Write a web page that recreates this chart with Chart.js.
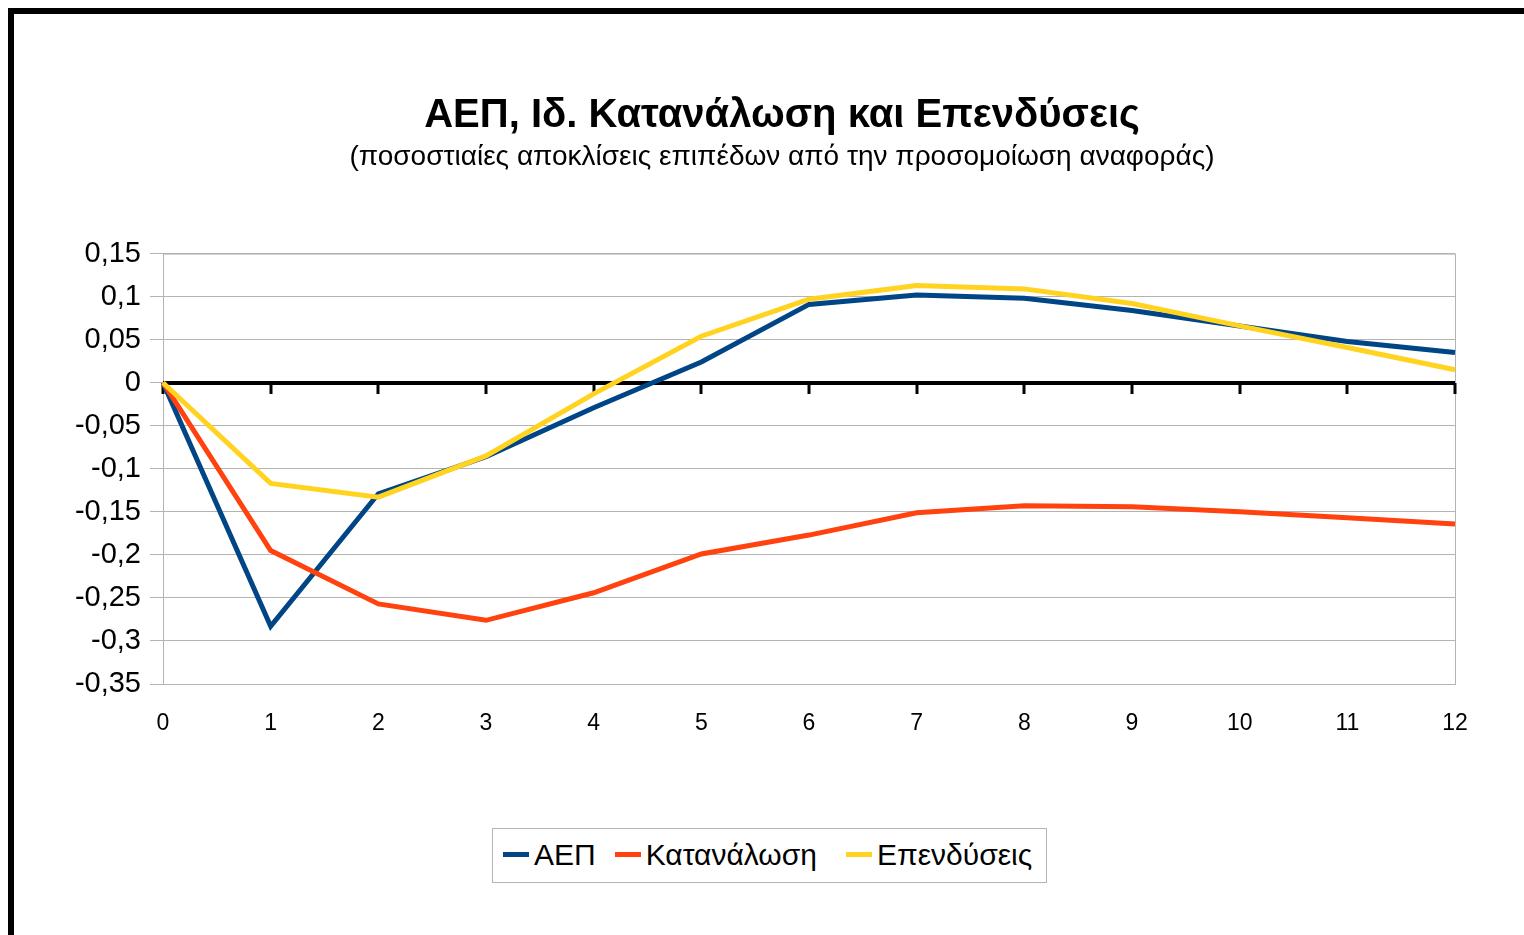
<!DOCTYPE html>
<html>
<head>
<meta charset="utf-8">
<title>ΑΕΠ, Ιδ. Κατανάλωση και Επενδύσεις</title>
<script src="https://cdn.jsdelivr.net/npm/chart.js@4/dist/chart.umd.min.js"></script>
<style>
  html, body { margin: 0; padding: 0; background: #fff; overflow: hidden; }
  body { width: 1524px; height: 935px; position: relative; font-family: "Liberation Sans", Arial, sans-serif; }
  #frame { position: absolute; left: 8px; top: 8px; width: 2000px; height: 2000px;
           border-left: 6px solid #000; border-top: 6px solid #000; box-sizing: border-box; }
  #chart { position: absolute; left: 0; top: 0; }
  #legend { position: absolute; left: 492px; top: 828px; height: 55px; box-sizing: border-box;
            border: 1px solid #b3b3b3; background: #fff; display: flex; align-items: center;
            padding: 0 14px 2px 10px; font-size: 30px; color: #000; }
  #legend .item { display: flex; align-items: center; white-space: nowrap; }
  #legend .item:nth-child(1) { margin-right: 19px; }
  #legend .item:nth-child(2) { margin-right: 29px; }
  #legend .mark { display: inline-block; width: 26px; height: 5px; margin-right: 5px; }
</style>
</head>
<body>
<div id="frame"></div>
<canvas id="chart" width="1564" height="935"></canvas>
<div id="legend"></div>
<script>
// data
const periods = ['0', '1', '2', '3', '4', '5', '6', '7', '8', '9', '10', '11', '12'];
const gdp = [0, -0.283, -0.129, -0.086, -0.029, 0.024, 0.091, 0.102, 0.098, 0.084, 0.066, 0.048, 0.035];
const consumption = [0, -0.195, -0.257, -0.276, -0.244, -0.199, -0.177, -0.151, -0.143, -0.144, -0.150, -0.157, -0.164];
const investment = [0, -0.117, -0.133, -0.085, -0.013, 0.054, 0.097, 0.113, 0.109, 0.092, 0.066, 0.041, 0.015];
const yTicks = [-0.35, -0.3, -0.25, -0.2, -0.15, -0.1, -0.05, 0, 0.05, 0.1, 0.15];

const seriesNames = ['ΑΕΠ', 'Κατανάλωση', 'Επενδύσεις'];
const seriesColors = ['#004586', '#ff420e', '#ffd320'];

const fmt = v => {
  const r = Math.round(v * 100) / 100;
  return String(r).replace('.', ',');
};

// plot frame + black zero line with tick marks
const framePlugin = {
  id: 'frame',
  beforeDatasetsDraw(chart) {
    const { ctx, chartArea: a, scales: { x, y } } = chart;
    ctx.save();
    ctx.strokeStyle = '#b3b3b3';
    ctx.lineWidth = 1;
    ctx.strokeRect(a.left + 0.5, a.top + 0.5, a.right - a.left, a.bottom - a.top);

    const y0 = Math.round(y.getPixelForValue(0));
    ctx.strokeStyle = '#000';
    ctx.lineWidth = 4;
    ctx.beginPath();
    ctx.moveTo(a.left, y0);
    ctx.lineTo(a.right, y0);
    ctx.stroke();
    ctx.lineWidth = 3;
    periods.forEach((p, i) => {
      const px = Math.round(x.getPixelForValue(i));
      ctx.beginPath();
      ctx.moveTo(px, y0);
      ctx.lineTo(px, y0 + 11);
      ctx.stroke();
    });
    ctx.restore();
  }
};

const htmlLegend = {
  id: 'htmlLegend',
  afterUpdate(chart) {
    const box = document.getElementById('legend');
    box.innerHTML = '';
    const items = chart.options.plugins.legend.labels.generateLabels(chart);
    items.sort((a, b) => a.datasetIndex - b.datasetIndex).forEach(it => {
      const el = document.createElement('span');
      el.className = 'item';
      const m = document.createElement('span');
      m.className = 'mark';
      m.style.background = it.strokeStyle;
      el.appendChild(m);
      el.appendChild(document.createTextNode(it.text));
      box.appendChild(el);
    });
  }
};

const ds = (i, data, order) => ({
  label: seriesNames[i],
  data: data,
  borderColor: seriesColors[i],
  backgroundColor: seriesColors[i],
  borderWidth: 5,
  pointRadius: 0,
  tension: 0,
  order: order
});

new Chart(document.getElementById('chart'), {
  type: 'line',
  data: {
    labels: periods,
    datasets: [ds(0, gdp, 3), ds(1, consumption, 2), ds(2, investment, 1)]
  },
  options: {
    responsive: false,
    animation: false,
    layout: { padding: 0 },
    plugins: {
      legend: { display: false },
      tooltip: { enabled: false },
      title: {
        display: true,
        text: 'ΑΕΠ, Ιδ. Κατανάλωση και Επενδύσεις',
        color: '#000',
        font: { family: 'Liberation Sans', size: 40, weight: 'bold', lineHeight: 1.2 },
        padding: { top: 92, bottom: 0 }
      },
      subtitle: {
        display: true,
        text: '(ποσοστιαίες αποκλίσεις επιπέδων από την προσομοίωση αναφοράς)',
        color: '#000',
        font: { family: 'Liberation Sans', size: 28, lineHeight: 1.2 },
        padding: { top: 0, bottom: 80 }
      }
    },
    scales: {
      x: {
        offset: false,
        grid: { display: false, drawTicks: false },
        border: { display: false },
        ticks: { color: '#000', padding: 26, maxRotation: 0, font: { family: 'Liberation Sans', size: 23 } },
        afterFit: s => { s.height = 251; }
      },
      y: {
        min: -0.35,
        max: 0.15,
        afterBuildTicks: s => { s.ticks = yTicks.map(v => ({ value: v })); },
        grid: { color: '#b3b3b3', lineWidth: 1, tickLength: 13 },
        border: { display: false },
        ticks: { color: '#000', padding: 9, callback: v => fmt(v), font: { family: 'Liberation Sans', size: 29 } },
        afterFit: s => { s.width = 163; }
      },
      // empty right axis, only reserves the space right of the plot
      yRight: {
        position: 'right',
        display: true,
        grid: { display: false, drawTicks: false },
        border: { display: false },
        ticks: { display: false },
        afterFit: s => { s.width = 109; }
      }
    }
  },
  plugins: [framePlugin, htmlLegend]
});
</script>
</body>
</html>
